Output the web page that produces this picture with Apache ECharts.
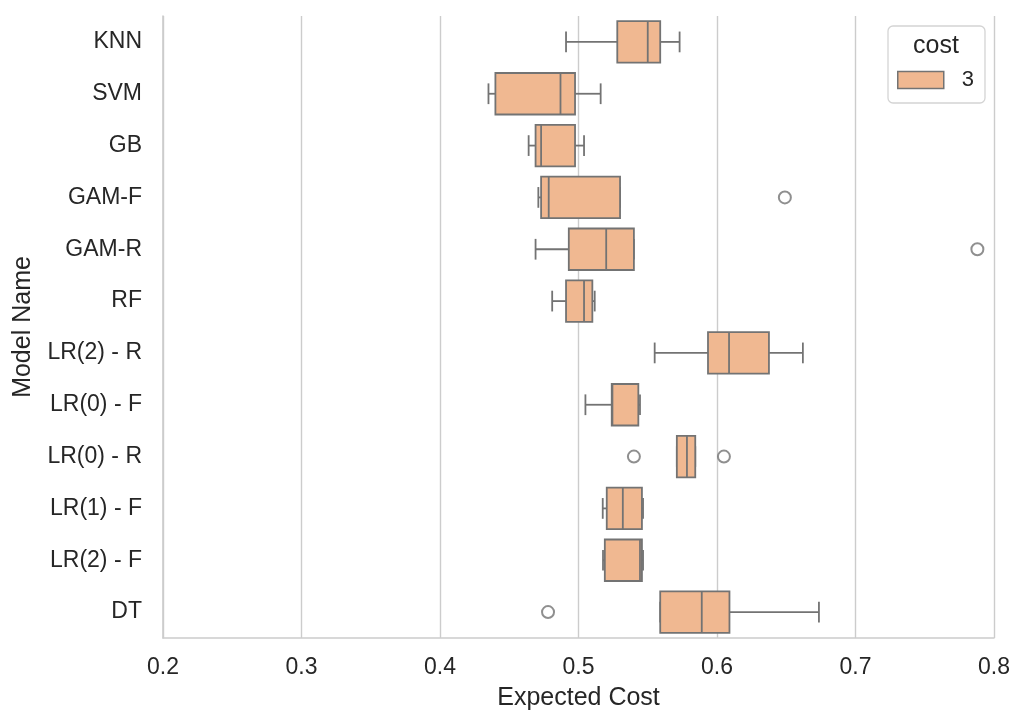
<!DOCTYPE html>
<html>
<head>
    <meta charset="utf-8">
    <title>Expected Cost by Model</title>
    <script src="https://cdn.jsdelivr.net/npm/echarts@6/dist/echarts.min.js"></script>
    <style>
        html, body { margin: 0; padding: 0; background: #fff; }
    </style>
</head>
<body>
    <div id="main" style="width: 1026px;height:726px;"></div>

    <script type="text/javascript">

        // model names, top to bottom
        var models = ['KNN', 'SVM', 'GB', 'GAM-F', 'GAM-R', 'RF', 'LR(2) - R', 'LR(0) - F', 'LR(0) - R', 'LR(1) - F', 'LR(2) - F', 'DT'];

        // box statistics
        var whiskerLow  = [0.491, 0.435, 0.464, 0.471, 0.469, 0.481, 0.555, 0.505, 0.571, 0.5175, 0.5177, 0.559];
        var q1          = [0.528, 0.440, 0.469, 0.473, 0.493, 0.491, 0.5935, 0.524, 0.571, 0.5204, 0.519, 0.559];
        var median      = [0.550, 0.487, 0.473, 0.4785, 0.520, 0.504, 0.6087, 0.5245, 0.5783, 0.532, 0.5444, 0.589];
        var q3          = [0.559, 0.4975, 0.4975, 0.530, 0.540, 0.510, 0.6375, 0.5432, 0.5843, 0.5458, 0.5458, 0.609];
        var whiskerHigh = [0.573, 0.516, 0.504, 0.530, 0.540, 0.5117, 0.662, 0.5444, 0.5843, 0.5466, 0.5466, 0.6736];

        // outliers: model name and value
        var outlierModel = ['GAM-F', 'GAM-R', 'LR(0) - R', 'LR(0) - R', 'DT'];
        var outlierValue = [0.649, 0.788, 0.540, 0.605, 0.478];

        var xTicks = [0.2, 0.3, 0.4, 0.5, 0.6, 0.7, 0.8];

        var fill = '#f0b891';
        var edge = '#737373';
        var gridColor = '#cccccc';
        var textColor = '#262626';
        var font = 'Liberation Sans, Arial, sans-serif';

        var boxData = [];
        for (var i = 0; i < models.length; i++) {
            boxData.push([i, whiskerLow[i], q1[i], median[i], q3[i], whiskerHigh[i]]);
        }
        var outlierData = [];
        for (var j = 0; j < outlierModel.length; j++) {
            outlierData.push([outlierValue[j], outlierModel[j]]);
        }

        // seaborn-style box: half-height caps, median line
        function renderBox(params, api) {
            var idx = api.value(0);
            var lo = api.coord([api.value(1), idx]);
            var b1 = api.coord([api.value(2), idx]);
            var md = api.coord([api.value(3), idx]);
            var b3 = api.coord([api.value(4), idx]);
            var hi = api.coord([api.value(5), idx]);
            var band = api.size([0, 1])[1];
            var h = band * 0.8;
            var c = h / 4;
            var y = b1[1];
            var ln = { stroke: edge, lineWidth: 1.8 };
            return {
                type: 'group',
                children: [
                    { type: 'line', shape: { x1: lo[0], y1: y, x2: b1[0], y2: y }, style: ln },
                    { type: 'line', shape: { x1: b3[0], y1: y, x2: hi[0], y2: y }, style: ln },
                    { type: 'line', shape: { x1: lo[0], y1: y - c, x2: lo[0], y2: y + c }, style: ln },
                    { type: 'line', shape: { x1: hi[0], y1: y - c, x2: hi[0], y2: y + c }, style: ln },
                    { type: 'rect', shape: { x: b1[0], y: y - h / 2, width: b3[0] - b1[0], height: h },
                      style: { fill: fill, stroke: edge, lineWidth: 1.8 } },
                    { type: 'line', shape: { x1: md[0], y1: y - h / 2, x2: md[0], y2: y + h / 2 }, style: ln }
                ]
            };
        }

        var myChart = echarts.init(document.getElementById('main'));

        var option = {
            animation: false,
            backgroundColor: '#fff',
            textStyle: { fontFamily: font, color: textColor },
            grid: { left: 163, right: 32, top: 16, bottom: 88 },
            legend: {
                left: 888,
                top: 26,
                orient: 'vertical',
                padding: [43, 11, 12, 9],
                borderColor: '#d4d4d4',
                borderWidth: 1.3,
                borderRadius: 5,
                itemWidth: 46,
                itemHeight: 17,
                textStyle: { fontFamily: font, fontSize: 22, color: textColor, padding: [0, 0, 0, 13] },
                data: [{ name: '3', icon: 'rect', itemStyle: { color: fill, borderColor: edge, borderWidth: 1.5 } }]
            },
            graphic: [{
                type: 'text',
                x: 936,
                y: 46,
                style: { text: 'cost', fontFamily: font, fontSize: 25, fill: textColor, textAlign: 'center', textVerticalAlign: 'middle' }
            }],
            xAxis: {
                type: 'value',
                min: xTicks[0],
                max: xTicks[xTicks.length - 1],
                interval: 0.1,
                name: 'Expected Cost',
                nameLocation: 'middle',
                nameGap: 48,
                nameTextStyle: { fontFamily: font, fontSize: 25, color: textColor },
                axisLine: { show: true, lineStyle: { color: gridColor, width: 1.6 } },
                axisTick: { show: false },
                axisLabel: { fontFamily: font, fontSize: 23, color: textColor, margin: 18,
                    formatter: function (v) { return v.toFixed(1); } },
                splitLine: { show: true, lineStyle: { color: gridColor, width: 1.4 } }
            },
            yAxis: {
                type: 'category',
                data: models,
                inverse: true,
                name: 'Model Name',
                nameLocation: 'middle',
                nameGap: 127,
                nameTextStyle: { fontFamily: font, fontSize: 25, color: textColor },
                axisLine: { show: true, lineStyle: { color: gridColor, width: 1.6 } },
                axisTick: { show: false },
                axisLabel: { fontFamily: font, fontSize: 23, color: textColor, margin: 21 },
                splitLine: { show: false }
            },
            series: [{
                name: '3',
                type: 'custom',
                renderItem: renderBox,
                encode: { x: [1, 2, 3, 4, 5], y: 0 },
                itemStyle: { color: fill, borderColor: edge },
                data: boxData,
                z: 3
            }, {
                name: 'outliers',
                type: 'scatter',
                symbol: 'emptyCircle',
                symbolSize: 12,
                itemStyle: { color: edge, borderColor: edge, borderWidth: 1.8 },
                data: outlierData,
                z: 4
            }]
        };

        myChart.setOption(option);

    </script>

</body>
</html>
